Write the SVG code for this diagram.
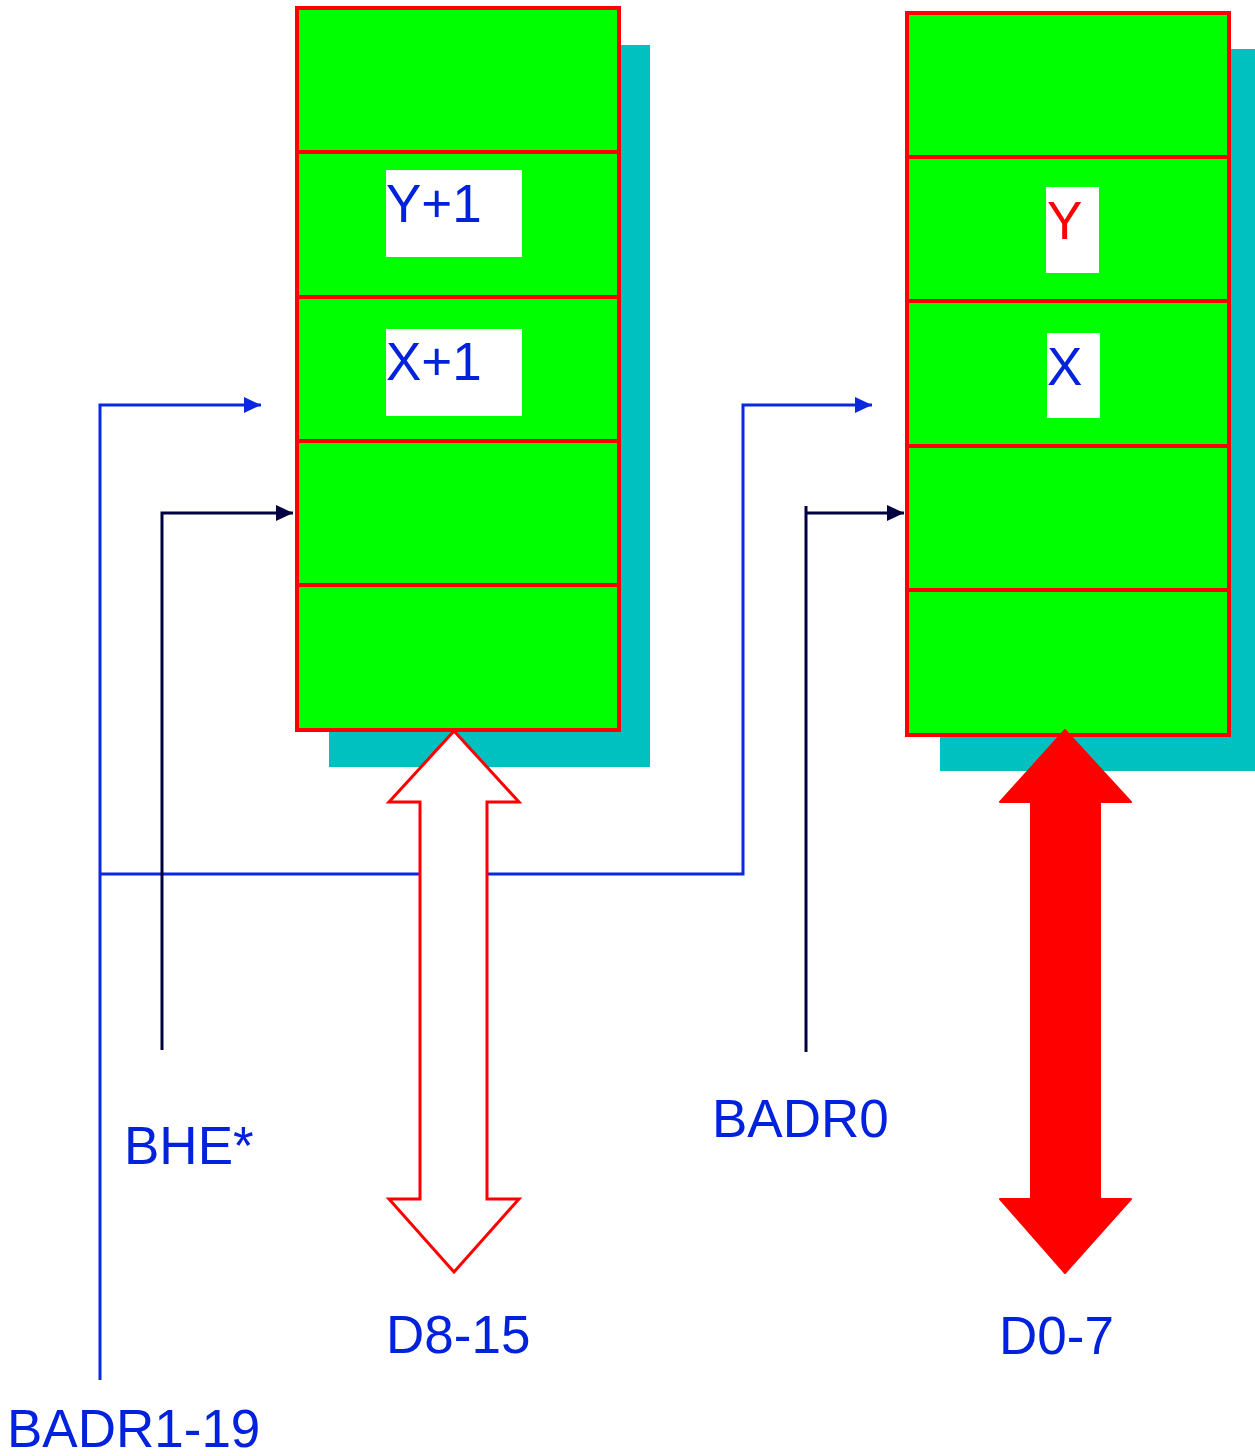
<svg xmlns="http://www.w3.org/2000/svg" width="1255" height="1456" viewBox="0 0 1255 1456">
<style>
.shadow{fill:#00C0C0}
.cell{fill:#00FF00;stroke:#FF0000;stroke-width:4}
.lbl{fill:#FFFFFF}
.t{font-family:"Liberation Sans",Arial,sans-serif;font-size:53px;fill:#0022DD}
.red{fill:#FF0000}
.blue{fill:none;stroke:#0A28E0;stroke-width:3}
.navy{fill:none;stroke:#000040;stroke-width:3}
</style>
<defs>
<marker id="ab" markerUnits="userSpaceOnUse" markerWidth="17" markerHeight="18" refX="17" refY="9" orient="auto"><path d="M0,1 L17,9 L0,17 z" fill="#0A28E0"/></marker>
<marker id="an" markerUnits="userSpaceOnUse" markerWidth="17" markerHeight="18" refX="17" refY="9" orient="auto"><path d="M0,1 L17,9 L0,17 z" fill="#000040"/></marker>
</defs>
<g id="memory-high">
<rect class="shadow" x="329" y="45" width="321" height="722"/>
<rect class="cell" x="297" y="8" width="322" height="144"/>
<rect class="cell" x="297" y="152" width="322" height="145"/>
<rect class="cell" x="297" y="297" width="322" height="144"/>
<rect class="cell" x="297" y="441" width="322" height="144"/>
<rect class="cell" x="297" y="585" width="322" height="145"/>
<rect class="lbl" x="386" y="170" width="136" height="87"/>
<text class="t" x="386" y="222">Y+1</text>
<rect class="lbl" x="386" y="329" width="136" height="87"/>
<text class="t" x="386" y="380">X+1</text>
</g>
<g id="memory-low">
<rect class="shadow" x="940" y="49" width="315" height="722"/>
<rect class="cell" x="907" y="13" width="322" height="144"/>
<rect class="cell" x="907" y="157" width="322" height="144"/>
<rect class="cell" x="907" y="301" width="322" height="145"/>
<rect class="cell" x="907" y="446" width="322" height="144"/>
<rect class="cell" x="907" y="590" width="322" height="145"/>
<rect class="lbl" x="1046" y="187" width="53" height="86"/>
<text class="t" x="1047" y="239" style="fill:#FF0000">Y</text>
<rect class="lbl" x="1047" y="333" width="53" height="85"/>
<text class="t" x="1047" y="385">X</text>
</g>
<g id="connectors">
<path class="blue" d="M100,1380 V405 H261" marker-end="url(#ab)"/>
<path class="blue" d="M100,874 H743 V405 H872" marker-end="url(#ab)"/>
<path class="navy" d="M162,1050 V513 H293" marker-end="url(#an)"/>
<path class="navy" d="M806,1052 V506 M806,513 H904" marker-end="url(#an)"/>
<path id="bus-high" d="M454,731 L519,802 H487 V1199 H519 L454,1272 L389,1199 H420 V802 H389 Z" fill="#FFFFFF" stroke="#FF0000" stroke-width="3" stroke-linejoin="miter"/>
<path id="bus-low" d="M1065,730 L1131,802 H1100 V1199 H1131 L1065,1273 L1000,1199 H1031 V802 H1000 Z" fill="#FF0000" stroke="#FF0000" stroke-width="2" stroke-linejoin="round"/>
</g>
<g id="labels">
<text class="t" x="124" y="1164">BHE*</text>
<text class="t" x="712" y="1137">BADR0</text>
<text class="t" x="386" y="1353">D8-15</text>
<text class="t" x="999" y="1354">D0-7</text>
<text class="t" x="7" y="1447">BADR1-19</text>
</g>
</svg>
